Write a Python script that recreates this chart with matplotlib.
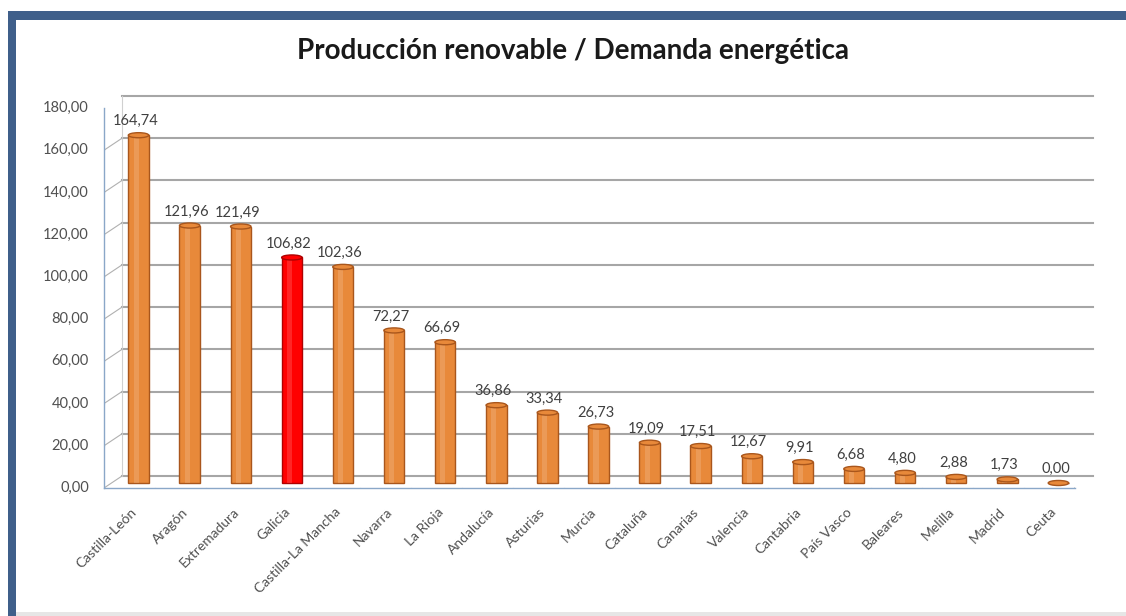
import matplotlib
matplotlib.use("Agg")
import matplotlib.pyplot as plt
from matplotlib.transforms import ScaledTranslation
from matplotlib.patches import Rectangle, Ellipse
import matplotlib.lines as mlines

regions = ["Castilla-León", "Aragón", "Extremadura", "Galicia", "Castilla-La Mancha",
           "Navarra", "La Rioja", "Andalucía", "Asturias", "Murcia", "Cataluña",
           "Canarias", "Valencia", "Cantabria", "País Vasco", "Baleares", "Melilla",
           "Madrid", "Ceuta"]
values = [164.74, 121.96, 121.49, 106.82, 102.36, 72.27, 66.69, 36.86, 33.34, 26.73,
          19.09, 17.51, 12.67, 9.91, 6.68, 4.80, 2.88, 1.73, 0.00]
highlight = "Galicia"
yticks = [0, 20, 40, 60, 80, 100, 120, 140, 160, 180]
title = "Producción renovable / Demanda energética"

W, H, DPI = 1126, 616, 100
fig = plt.figure(figsize=(W / DPI, H / DPI), dpi=DPI)
fig.patch.set_facecolor("white")

FONT = ["Lato", "DejaVu Sans"]

# front plane of the 3D-like plot (pixels)
x0, x1 = 104, 1075
y_top, y_bot = 108, 488
ax = fig.add_axes([x0 / W, (H - y_bot) / H, (x1 - x0) / W, (y_bot - y_top) / H])
ax.set_xlim(-0.5, len(regions) - 0.5)
ax.set_ylim(0, 180)
ax.axis("off")

dxb, dyb = 18 / DPI, 12 / DPI   # back wall offset
dxc, dyc = 9 / DPI, 5 / DPI     # bar depth offset
back = ax.transData + ScaledTranslation(dxb, dyb, fig.dpi_scale_trans)
mid = ax.transData + ScaledTranslation(dxc, dyc, fig.dpi_scale_trans)

grid_c = "#a6a6a6"
n = len(regions)
# back wall gridlines
for v in yticks:
    ax.plot([-0.5, n - 0.5], [v, v], color=grid_c, lw=1.5, transform=back, clip_on=False, zorder=1)
# back wall left edge
ax.plot([-0.5, -0.5], [0, 180], color="#d0d0d0", lw=0.8, transform=back, clip_on=False, zorder=1)

# left wall diagonals and front axis
for v in yticks:
    p0 = ax.transData.transform((-0.5, v))
    p1 = back.transform((-0.5, v))
    ax.add_line(mlines.Line2D([p0[0], p1[0]], [p0[1], p1[1]], transform=None,
                              color="#b0b0b0", lw=0.8, zorder=1))
    ax.add_line(mlines.Line2D([p0[0] - 4, p0[0]], [p0[1], p0[1]], transform=None,
                              color="#8aa7c8", lw=0.8, zorder=1))
    ax.text(-0.5, v, f"{v:.2f}".replace(".", ","), transform=ax.transData + ScaledTranslation(-15 / DPI, 0, fig.dpi_scale_trans),
            ha="right", va="center", fontsize=10.5, color="#505050", family=FONT)
ax.plot([-0.5, -0.5], [0, 180], color="#8aa7c8", lw=1.0, clip_on=False, zorder=2)

# floor
ax.plot([-0.5, n - 0.5], [0, 0], color="#8aa7c8", lw=1.0, clip_on=False, zorder=2)
p0 = ax.transData.transform((n - 0.5, 0))
p1 = back.transform((n - 0.5, 0))
ax.add_line(mlines.Line2D([p0[0], p1[0]], [p0[1], p1[1]], transform=None, color="#a0a0a0", lw=0.9))
for i in range(n + 1):
    p = ax.transData.transform((i - 0.5, 0))
    ax.add_line(mlines.Line2D([p[0], p[0]], [p[1], p[1] - 5], transform=None, color="#8aa7c8", lw=0.8))

# bars (cylinders)
bw = 0.40
for i, (r, v) in enumerate(zip(regions, values)):
    face = "#ff0000" if r == highlight else "#e8893a"
    edge = "#b00000" if r == highlight else "#a9561c"
    ax.bar(i, v, width=bw, color=face, edgecolor=edge, linewidth=1.0, transform=mid, zorder=3, clip_on=False)
    ax.bar(i - bw * 0.12, v, width=bw * 0.25, color="white", alpha=0.15, linewidth=0, transform=mid, zorder=3.5, clip_on=False)
    cap = Ellipse((i, v), bw, 2.4, facecolor=face, edgecolor=edge, lw=1.0, transform=mid, zorder=4, clip_on=False)
    ax.add_patch(cap)
    ax.text(i, v, f"{v:.2f}".replace(".", ","), transform=mid + ScaledTranslation(-3 / DPI, 14 / DPI, fig.dpi_scale_trans),
            ha="center", va="center", fontsize=10.5, color="#404040", family=FONT, zorder=5)
    ax.text(i, 0, r, transform=ax.transData + ScaledTranslation(5 / DPI, -22 / DPI, fig.dpi_scale_trans),
            ha="right", va="center", rotation=45, rotation_mode="anchor",
            fontsize=10, color="#505050", family=FONT)

# title
fig.text(573 / W, 1 - 51 / H, title, ha="center", va="center", fontsize=20,
         fontweight="bold", color="#1a1a1a", family=FONT)

# frame
fig.add_artist(Rectangle((8 / W, 0), 8 / W, (H - 12) / H, transform=fig.transFigure,
                         facecolor="#3f5f8a", edgecolor="none"))
fig.add_artist(Rectangle((8 / W, (H - 20) / H), (W - 8) / W, 9 / H, transform=fig.transFigure,
                         facecolor="#3f5f8a", edgecolor="none"))
fig.add_artist(Rectangle((16 / W, 0), (W - 16) / W, 4 / H, transform=fig.transFigure,
                         facecolor="#e6e6e6", edgecolor="none"))

fig.savefig("out.png", dpi=DPI)
